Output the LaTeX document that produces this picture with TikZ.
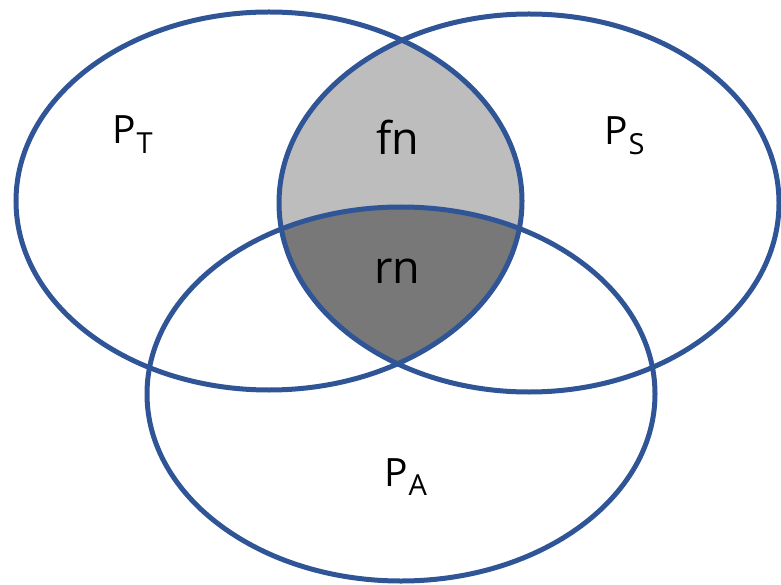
\documentclass[tikz,border=0pt]{standalone}
\usepackage{fontspec}
\setmainfont{Open Sans}
\usepackage{xcolor}
\usetikzlibrary{positioning}
\definecolor{setblue}{RGB}{47,85,151}
\definecolor{fngray}{RGB}{189,189,189}
\definecolor{rngray}{RGB}{120,120,120}
\newcommand{\psub}[1]{P\kern1pt\raisebox{-0.24em}{\fontsize{29}{32}\selectfont #1}}

\begin{document}
\begin{tikzpicture}[
  x=1pt, y=-1pt,
  setline/.style={draw=setblue, line width=5pt},
  tsize/.style={x radius=253pt, y radius=189pt},
  ssize/.style={x radius=250pt, y radius=189pt},
  asize/.style={x radius=254pt, y radius=187pt},
  setname/.style={anchor=base west, inner sep=0pt, font=\fontsize{39}{44}\selectfont},
  part/.style={anchor=base, inner sep=0pt, font=\fontsize{45}{50}\selectfont}
]
\useasboundingbox (0,0) rectangle (781,585);
\coordinate (tc) at (269,201);
\coordinate (sc) at (529,203);
\coordinate (ac) at (401,394);

% shaded parts
\begin{scope}
  \clip (tc) ellipse [tsize];
  \clip (sc) ellipse [ssize];
  \fill[fngray] (0,0) rectangle (781,585);
  \fill[rngray] (ac) ellipse [asize];
\end{scope}

% sets
\draw[setline] (tc) ellipse [tsize];
\draw[setline] (sc) ellipse [ssize];
\draw[setline] (ac) ellipse [asize];

\node[setname] (pt) at (112,144) {\psub{T}};
\node[setname] (ps) at (604,145) {\psub{S}};
\node[setname] (pa) at (384,486) {\psub{A}};
\node[part] (fn) at (398,155) {fn};
\node[part] (rn) at (397,283) {rn};
\end{tikzpicture}
\end{document}
